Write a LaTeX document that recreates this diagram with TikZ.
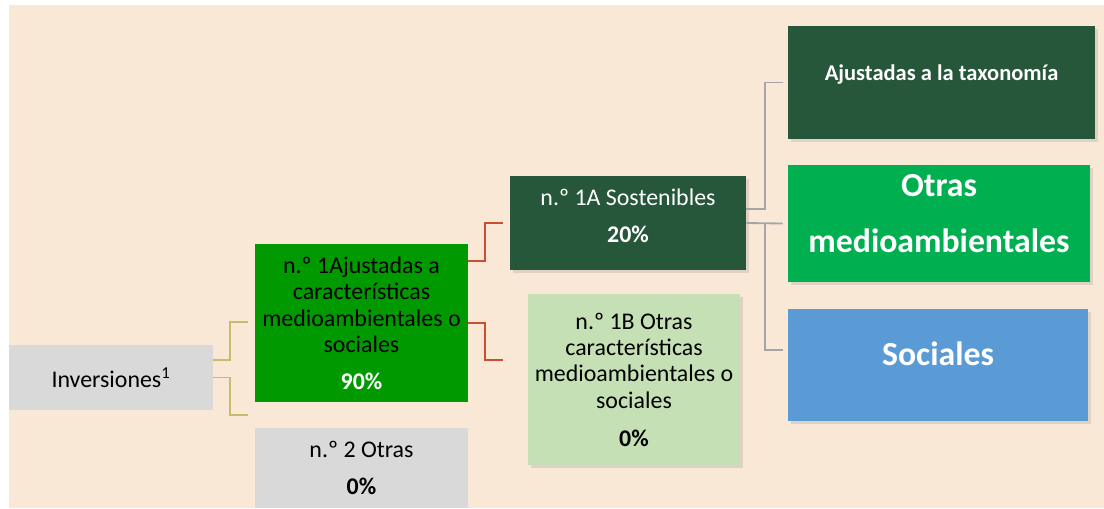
\documentclass[tikz,border=0pt]{standalone}
\usepackage{fontspec}
\setmainfont{Carlito}
\usetikzlibrary{positioning,calc,shadows}
\definecolor{bgpeach}{HTML}{FAE8D7}
\definecolor{boxgray}{HTML}{D9D9D9}
\definecolor{midgreen}{HTML}{009900}
\definecolor{darkgreen}{HTML}{26573A}
\definecolor{lightgreen}{HTML}{C5E0B4}
\definecolor{brightgreen}{HTML}{00B050}
\definecolor{socblue}{HTML}{5B9BD5}
\definecolor{linkyellow}{HTML}{C9BA6C}
\definecolor{linkred}{HTML}{C9502E}
\definecolor{linkgray}{HTML}{A5A5A5}

\begin{document}
\begin{tikzpicture}[
    x=0.025cm, y=-0.025cm,
    box/.style={rectangle, inner sep=2pt, align=center, font=\fontsize{17}{18.8}\selectfont},
    shbox/.style={box, drop shadow={opacity=0.22, shadow xshift=2pt, shadow yshift=-2pt}},
    big/.style={font=\fontsize{24}{40}\selectfont\bfseries, text=white},
    link/.style={line width=1.3pt},
    ylink/.style={link, color=linkyellow},
    rlink/.style={link, color=linkred},
    glink/.style={link, color=linkgray}
]
    \useasboundingbox (0,0) rectangle (1104,508);
    \fill[bgpeach] (9,5) rectangle (1104,508);

    % left column
    \node[box, fill=boxgray, minimum width=5.1cm, minimum height=1.625cm] (inv) at (111,377.5) {Inversiones\textsuperscript{1}};
    \node[box, fill=midgreen, minimum width=5.325cm, minimum height=3.95cm] (n1) at (361.5,323) {n.º 1Ajustadas a\\características\\medioambientales o\\sociales\\[7pt]\textcolor{white}{\textbf{90\%}}};
    \node[box, fill=boxgray, minimum width=5.325cm, minimum height=2cm] (n2) at (361.5,468) {n.º 2 Otras\\[7pt]\textbf{0\%}};

    % middle column
    \node[shbox, fill=darkgreen, text=white, minimum width=5.9cm, minimum height=2.35cm, text depth=10.5pt] (s1a) at (628,223) {n.º 1A Sostenibles\\[7pt]\textbf{20\%}};
    \node[shbox, fill=lightgreen, minimum width=5.3cm, minimum height=4.275cm] (s1b) at (634,379.5) {n.º 1B Otras\\características\\medioambientales o\\sociales\\[8pt]\textbf{0\%}};

    % right column
    \node[shbox, fill=darkgreen, text=white, font=\fontsize{16}{19}\selectfont\bfseries, minimum width=7.675cm, minimum height=2.825cm, text depth=13.5pt] (tax) at (941.5,82.5) {Ajustadas a la taxonomía};
    \node[shbox, big, fill=brightgreen, minimum width=7.55cm, minimum height=2.925cm, text depth=14pt] (otras) at (939,223.5) {Otras\\medioambientales};
    \node[shbox, big, fill=socblue, minimum width=7.5cm, minimum height=2.8cm, text depth=15.5pt] (soc) at (938,365) {Sociales};

    % free ends of the connectors
    \coordinate (n1in) at (248,322);
    \coordinate (gapin) at (248,415);
    \coordinate (s1ain) at ($(s1a.west)+(-7,0)$);
    \coordinate (s1bin) at (503,360);
    \coordinate (taxin) at ($(tax.west)+(-5,0)$);
    \coordinate (otrasin) at ($(otras.west)+(-5,0)$);
    \coordinate (socin) at ($(soc.west)+(-5,-15)$);

    \draw[ylink] ($(inv.east)+(0,-17.5)$) -- ++(17,0) |- (n1in);
    \draw[ylink] (inv.east) -- ++(17,0) |- (gapin);
    \draw[rlink] ($(n1.east)+(0,-62)$) -- ++(17,0) |- (s1ain);
    \draw[rlink] (n1.east) -- ++(17,0) |- (s1bin);
    \draw[glink] ($(s1a.east)+(0,-14)$) -- ++(19,0) |- (taxin);
    \draw[glink] (s1a.east) -- (otrasin);
    \draw[glink] ($(s1a.east)+(19,0)$) |- (socin);
\end{tikzpicture}
\end{document}
